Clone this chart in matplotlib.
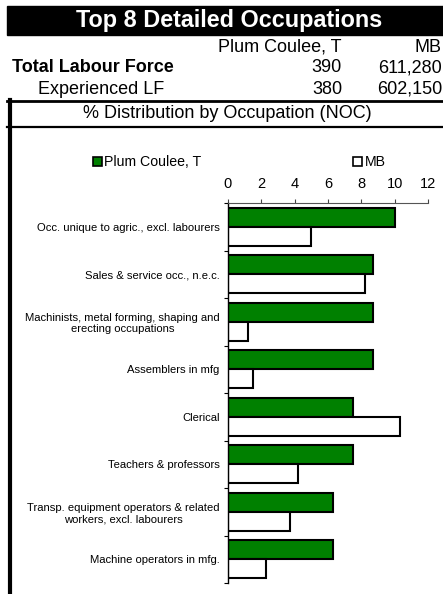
import matplotlib
matplotlib.use("Agg")
import matplotlib.pyplot as plt
from matplotlib.patches import Rectangle, Patch
from matplotlib.lines import Line2D

plt.rcParams['font.family'] = ['Liberation Sans', 'DejaVu Sans']

# data
occupations = [
    "Occ. unique to agric., excl. labourers",
    "Sales & service occ., n.e.c.",
    "Machinists, metal forming, shaping and\nerecting occupations",
    "Assemblers in mfg",
    "Clerical",
    "Teachers & professors",
    "Transp. equipment operators & related\nworkers, excl. labourers",
    "Machine operators in mfg.",
]
plum_coulee = [10.0, 8.7, 8.7, 8.7, 7.5, 7.5, 6.3, 6.3]
mb = [5.0, 8.2, 1.2, 1.5, 10.3, 4.2, 3.7, 2.3]
place_name = "Plum Coulee, T"
province = "MB"
total_lf = ["390", "611,280"]
experienced_lf = ["380", "602,150"]
x_ticks = [0, 2, 4, 6, 8, 10, 12]

W, H = 443, 594
fig = plt.figure(figsize=(W / 100, H / 100), dpi=100)


def fx(px):
    return px / W


def fy(py):
    return 1 - py / H


# header block
fig.patches.append(Rectangle((fx(7), fy(35)), fx(443 - 7), 29 / H,
                             transform=fig.transFigure, color='black', zorder=0))
fig.text(fx(229), fy(21), "Top 8 Detailed Occupations", color='white',
         fontsize=16.8, fontweight='bold', ha='center', va='center')

fs = 13
fig.text(fx(341), fy(47), place_name, fontsize=fs, ha='right', va='center')
fig.text(fx(442), fy(47), province, fontsize=fs, ha='right', va='center')

fig.text(fx(12), fy(68), "Total Labour Force", fontsize=fs, fontweight='bold',
         ha='left', va='center')
fig.text(fx(342), fy(68), total_lf[0], fontsize=fs, ha='right', va='center')
fig.text(fx(442), fy(68), total_lf[1], fontsize=fs, ha='right', va='center')

fig.text(fx(38), fy(89), "Experienced LF", fontsize=fs, ha='left', va='center')
fig.text(fx(342), fy(89), experienced_lf[0], fontsize=fs, ha='right', va='center')
fig.text(fx(442), fy(89), experienced_lf[1], fontsize=fs, ha='right', va='center')

fig.lines.append(Line2D([fx(7), 1], [fy(101), fy(101)], transform=fig.transFigure,
                        color='black', lw=2.0))
fig.text(fx(227), fy(114), "% Distribution by Occupation (NOC)", fontsize=fs,
         ha='center', va='center')
fig.lines.append(Line2D([fx(7), 1], [fy(127), fy(127)], transform=fig.transFigure,
                        color='black', lw=1.6))
fig.lines.append(Line2D([fx(9.5), fx(9.5)], [fy(100), 0], transform=fig.transFigure,
                        color='black', lw=3.0))

# chart
ax = fig.add_axes([fx(228), fy(583), fx(428) - fx(228), (583 - 203) / H])
n = len(occupations)
pos = list(range(n))
bh = 0.4
ax.barh([p - 0.2 for p in pos], plum_coulee, height=bh, color='#008000',
        edgecolor='black', linewidth=1.5, label=place_name)
ax.barh([p + 0.2 for p in pos], mb, height=bh, color='white',
        edgecolor='black', linewidth=1.5, label=province)

ax.set_xlim(0, 12)
ax.set_ylim(n - 0.5, -0.5)
ax.xaxis.tick_top()
ax.set_xticks(x_ticks)
ax.tick_params(axis='x', direction='out', length=3, width=0.8, pad=6,
               labelsize=10.5, color='#444444')
ax.set_yticks([p - 0.5 for p in range(n + 1)])
ax.set_yticklabels([])
ax.set_yticks(pos, minor=True)
ax.set_yticklabels(occupations, minor=True, fontsize=8.1, ha='right',
                   multialignment='center')
ax.tick_params(axis='y', which='major', direction='out', length=3, width=0.8)
ax.tick_params(axis='y', which='minor', length=0, pad=6)
for s in ['right', 'bottom']:
    ax.spines[s].set_visible(False)
ax.spines['top'].set_color('#555555')
ax.spines['top'].set_linewidth(0.8)
ax.spines['left'].set_linewidth(1.0)
ax.patch.set_alpha(0)

handles = [Patch(facecolor='#008000', edgecolor='black', linewidth=1.2),
           Patch(facecolor='white', edgecolor='black', linewidth=1.2)]
fig.legend(handles, [place_name, province], loc='center left',
           bbox_to_anchor=(fx(93), fy(162)), ncol=2, frameon=False,
           fontsize=10.2, handlelength=0.6, handleheight=0.6, handletextpad=0.2,
           columnspacing=10.7, borderaxespad=0, borderpad=0)

fig.savefig("out.png", dpi=100)
